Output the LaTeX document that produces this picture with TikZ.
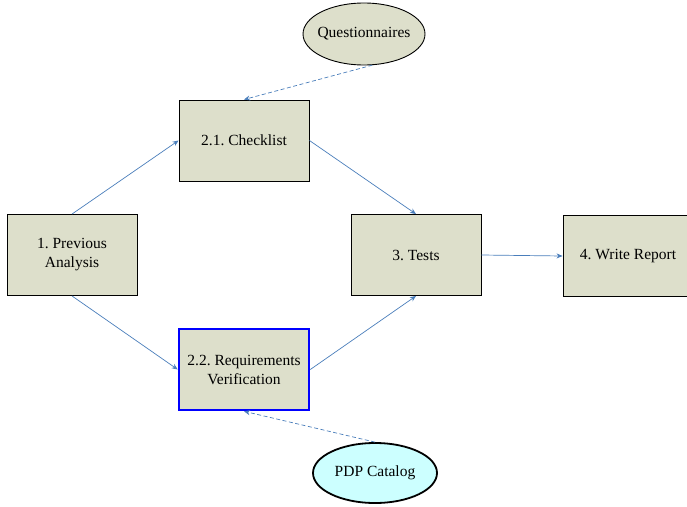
\documentclass[tikz,border=0pt]{standalone}
\usepackage{fontspec}
\setmainfont{Liberation Serif}
\usetikzlibrary{arrows.meta,shapes.geometric}
\definecolor{boxfill}{HTML}{DDDFCB}
\definecolor{arrowblue}{HTML}{4A7EBB}
\definecolor{pdpfill}{HTML}{CCFFFF}
\tikzset{
  stepbox/.style={draw=black, line width=0.9pt, fill=boxfill, minimum width=130pt, minimum height=81pt, inner sep=0pt, align=center, font=\fontsize{15.5}{19}\selectfont},
  ellnode/.style={ellipse, draw=black, fill=boxfill, line width=0.9pt, minimum width=122pt, minimum height=62pt, inner sep=0pt, font=\fontsize{15.5}{19}\selectfont},
  flow/.style={draw=arrowblue, line width=0.7pt, -{Stealth[length=6pt,width=5pt]}},
  dflow/.style={flow, dash pattern=on 4pt off 2.5pt}
}
\begin{document}
\frenchspacing
\begin{tikzpicture}[x=1pt,y=-1pt]
\useasboundingbox (0,0) rectangle (687,506);
\node[stepbox] (prev) at (72,255) {1. Previous\\Analysis};
\node[stepbox] (check) at (244,140.5) {2.1. Checklist};
\node[stepbox, draw=blue, line width=2.6pt] (req) at (244,369.5) {2.2. Requirements\\Verification};
\node[stepbox] (tests) at (416,255) {3. Tests};
\node[stepbox] (report) at (628,256) {4. Write Report};
\node[ellnode] (quest) at (364,34) {\makebox[0pt]{Questionnaires}};
\node[ellnode, fill=pdpfill, line width=1.8pt, minimum width=124pt, minimum height=60pt] (pdp) at (375,473) {\makebox[0pt]{PDP Catalog}};
\draw[flow] (prev.north) -- (check.west);
\draw[flow] (prev.south) -- (req.west);
\draw[flow] (check.east) -- (tests.north);
\draw[flow] (req.east) -- (tests.south);
\draw[flow] (tests.east) -- (report.west);
\draw[dflow] (quest.-75) -- (check.north);
\draw[dflow] (pdp.north) -- (req.south);
\end{tikzpicture}
\end{document}
